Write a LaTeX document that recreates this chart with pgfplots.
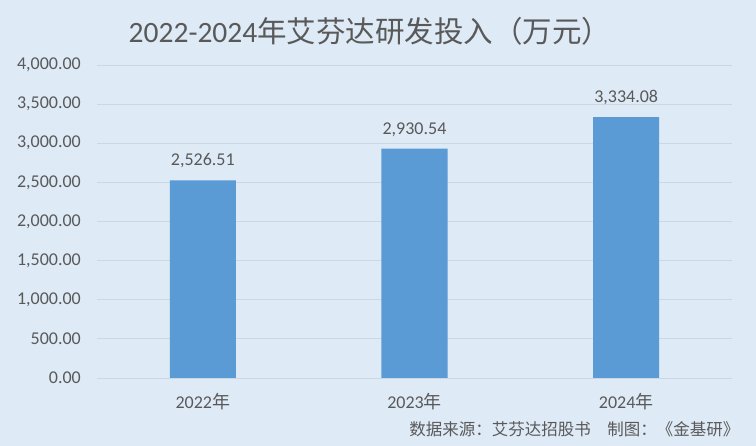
\documentclass[border=0pt]{standalone}
\usepackage{pgfplots}
\pgfplotsset{compat=1.18}
\usepackage{fontspec}
\setmainfont{Carlito}
\newfontfamily\cjk{Noto Sans CJK SC}
\definecolor{bg}{HTML}{DEEAF6}
\definecolor{barc}{HTML}{5B9BD5}
\definecolor{gridc}{HTML}{CBD8E1}
\definecolor{txt}{HTML}{595959}
\begin{document}
\begin{tikzpicture}[x=1pt,y=1pt]
\fill[bg] (0,0) rectangle (756,446);
\useasboundingbox (0,0) rectangle (756,446);
\node[txt,font=\fontsize{29.5}{32}\selectfont] at (370,415) {2022-2024{\cjk 年艾芬达研发投入（万元）}};
\node[txt,font=\fontsize{16.5}{18}\selectfont\cjk,anchor=east] at (743,17) {数据来源：艾芬达招股书\hspace{1em}制图：《金基研》};
\begin{axis}[
  at={(97pt,68pt)}, anchor=south west,
  scale only axis, width=635pt, height=313pt,
  xmin=-0.5, xmax=2.5, ymin=0, ymax=4000,
  axis line style={draw=none},
  major tick length=0pt,
  xtick={0,1,2},
  xticklabels={2022{\cjk 年},2023{\cjk 年},2024{\cjk 年}},
  ytick={0,500,1000,1500,2000,2500,3000,3500,4000},
  yticklabels={0.00,500.00,{1,000.00},{1,500.00},{2,000.00},{2,500.00},{3,000.00},{3,500.00},{4,000.00}},
  xmajorgrids=false, ymajorgrids=true,
  grid style={draw=gridc, line width=0.8pt},
  ticklabel style={txt, font=\fontsize{18}{20}\selectfont, inner sep=0pt},
  yticklabel style={anchor=east, xshift=-16pt},
  xticklabel style={anchor=north, yshift=-15pt},
  /pgf/number format/assume math mode=true,
  nodes near coords={\pgfmathprintnumber[fixed,fixed zerofill,precision=2,1000 sep={,}]{\pgfplotspointmeta}},
  nodes near coords style={txt, font=\fontsize{18}{20}\selectfont, inner sep=0pt, anchor=south, yshift=12pt},
  clip=false,
]
\addplot[ybar, bar width=66pt, fill=barc, draw=none] coordinates {(0,2526.51) (1,2930.54) (2,3334.08)};
\end{axis}
\end{tikzpicture}
\end{document}
